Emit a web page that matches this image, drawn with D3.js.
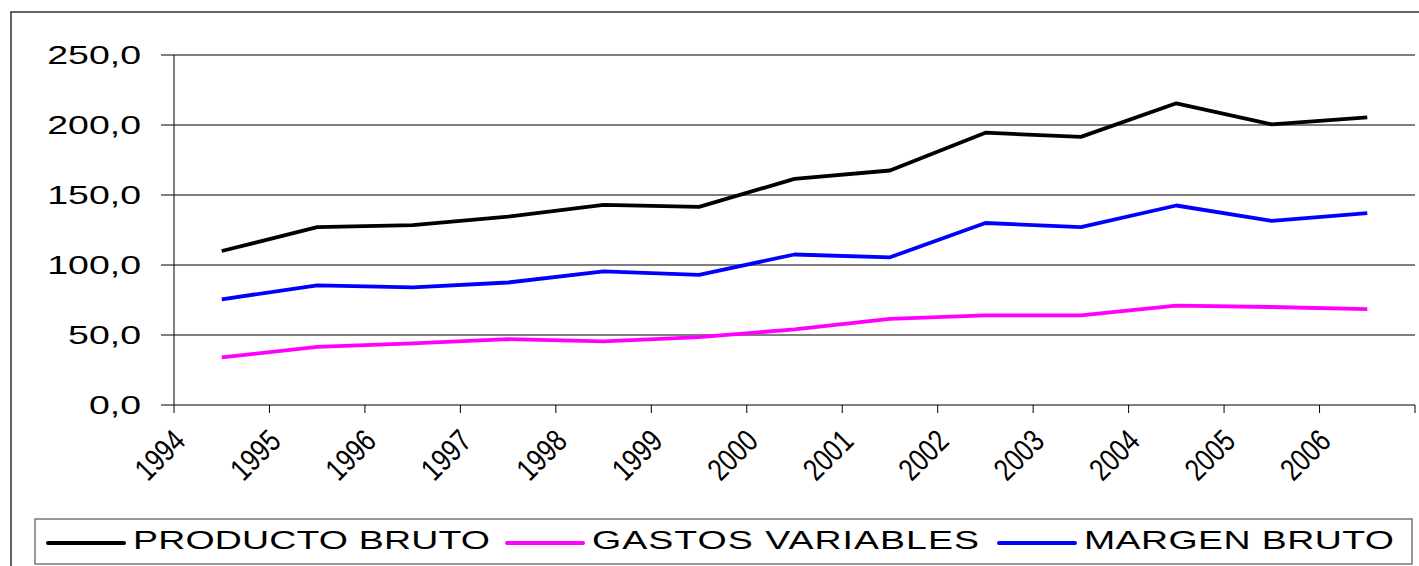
<!DOCTYPE html>
<html>
<head>
<meta charset="utf-8">
<script src="https://cdn.jsdelivr.net/npm/d3@7"></script>
<style>
  body { margin: 0; background: #fff; }
  text { font-family: "Liberation Sans", Arial, sans-serif; fill: #000; }
</style>
</head>
<body>
<script>
// years on the x axis
var years = ["1994","1995","1996","1997","1998","1999","2000","2001","2002","2003","2004","2005","2006"]

// series values
var productoBruto   = [110, 127, 128.5, 134.5, 143, 141.5, 161.5, 167.5, 194.5, 191.5, 215.5, 200.5, 205.5]
var gastosVariables = [34, 41.5, 44, 47, 45.5, 48.5, 54, 61.5, 64, 64, 71, 70, 68.5]
var margenBruto     = [75.5, 85.5, 84, 87.5, 95.5, 93, 107.5, 105.5, 130, 127, 142.5, 131.5, 137]

var yTicks = [0, 50, 100, 150, 200, 250]

var series = [
  {name: "PRODUCTO BRUTO", values: productoBruto, color: "#000000"},
  {name: "GASTOS VARIABLES", values: gastosVariables, color: "#ff00ff"},
  {name: "MARGEN BRUTO", values: margenBruto, color: "#0000ff"}
]

var W = 1419, H = 566
var svg = d3.select("body").append("svg").attr("width", W).attr("height", H)

// outer chart border (runs off the right and bottom)
svg.append("rect")
  .attr("x", 11).attr("y", 12).attr("width", 1440).attr("height", 600)
  .attr("fill", "none").attr("stroke", "#333").attr("stroke-width", 1.5)

var x = d3.scaleBand().domain(years).range([174, 1415])
var y = d3.scaleLinear().domain([0, 250]).range([405, 55])

// text in the original is stretched sideways
var stretch = 1.5
var fmt = function(d){ return d3.format(".1f")(d).replace(".", ",") }

// gridlines
svg.append("g").selectAll("line")
  .data(yTicks)
  .enter().append("line")
  .attr("x1", 161).attr("x2", 1415)
  .attr("y1", function(d){ return y(d) }).attr("y2", function(d){ return y(d) })
  .attr("stroke", "#000").attr("stroke-width", 1)

// y axis line
svg.append("line")
  .attr("x1", 174).attr("x2", 174).attr("y1", y(250)).attr("y2", y(0))
  .attr("stroke", "#000").attr("stroke-width", 1)

// y tick labels
svg.append("g").selectAll("text")
  .data(yTicks)
  .enter().append("text")
  .attr("transform", function(d){ return "translate(141," + (y(d) + 8.5) + ") scale(" + stretch + ",1)" })
  .attr("text-anchor", "end")
  .style("font-size", "25px")
  .text(fmt)

// x ticks at band edges
var tickPos = years.map(function(d){ return x(d) }).concat([x.range()[1]])
svg.append("g").selectAll("line")
  .data(tickPos)
  .enter().append("line")
  .attr("x1", function(d){ return d }).attr("x2", function(d){ return d })
  .attr("y1", 405).attr("y2", 413)
  .attr("stroke", "#000").attr("stroke-width", 1)

// rotated year labels (glyphs look tall and narrow in the original)
svg.append("g").selectAll("text")
  .data(years)
  .enter().append("text")
  .attr("transform", function(d){ return "translate(" + (x(d) + 13) + ",443) rotate(-45) scale(1,1.25)" })
  .attr("text-anchor", "end")
  .style("font-size", "25px")
  .text(function(d){ return d })

// lines
var line = d3.line()
  .x(function(d, i){ return x(years[i]) + x.bandwidth() / 2 })
  .y(function(d){ return y(d) })

svg.append("g").selectAll("path")
  .data(series)
  .enter().append("path")
  .attr("d", function(s){ return line(s.values) })
  .attr("fill", "none")
  .attr("stroke", function(s){ return s.color })
  .attr("stroke-width", 3.8)
  .attr("stroke-linejoin", "round")

// legend
svg.append("rect")
  .attr("x", 35).attr("y", 519).attr("width", 1377).attr("height", 45)
  .attr("fill", "#fff").attr("stroke", "#777").attr("stroke-width", 1.5)

var legendX = [48, 507, 999]
var legendW = [357, 387, 310]
var leg = svg.append("g").selectAll("g")
  .data(series)
  .enter().append("g")
  .attr("transform", function(s, i){ return "translate(" + legendX[i] + ",0)" })

leg.append("line")
  .attr("x1", 0).attr("x2", 76).attr("y1", 543).attr("y2", 543)
  .attr("stroke", function(s){ return s.color }).attr("stroke-width", 4)
  .attr("stroke-linecap", "round")

leg.append("text")
  .attr("transform", "translate(85,549) scale(" + stretch + ",1)")
  .attr("textLength", function(s, i){ return legendW[i] / stretch })
  .style("font-size", "25px")
  .text(function(s){ return s.name })
</script>
</body>
</html>
